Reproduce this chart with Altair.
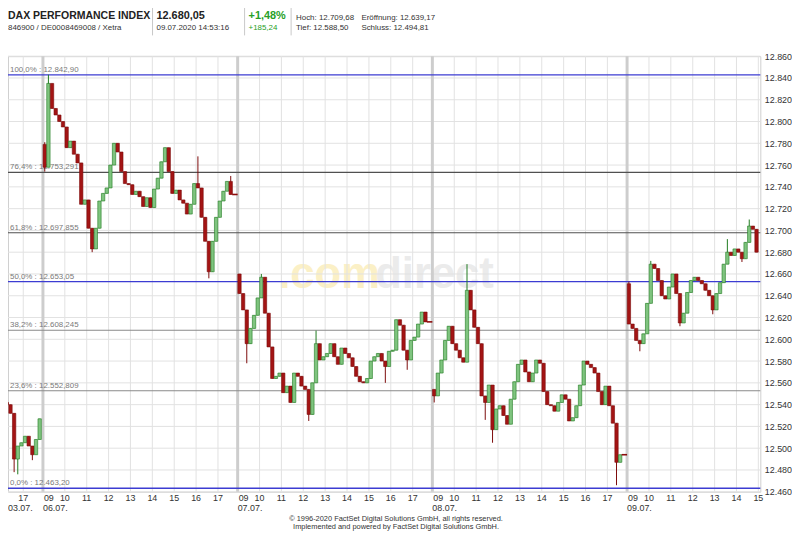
import altair as alt
import pandas as pd

# ------------------------------------------------------------------ data
day_names = ["03.07.", "06.07.", "07.07.", "08.07.", "09.07."]
day_index = [-1, 0, 1, 2, 3]
day_first_slot = [43, 0, 0, 0, 0]          # first visible 10-minute slot (09:00 = 0)
day_open = [12542, 12779, 12660, 12554, 12651]

close_0307 = [12540, 12532, 12490, 12502, 12505, 12511, 12502, 12494, 12508, 12527]
close_0607 = [12758, 12835, 12812, 12806, 12800, 12795, 12776, 12782, 12770, 12762,
              12724, 12728, 12702, 12683, 12702, 12727, 12734, 12739, 12760, 12780,
              12772, 12754, 12743, 12742, 12733, 12736, 12731, 12722, 12730, 12721,
              12738, 12748, 12763, 12776, 12754, 12734, 12737, 12728, 12725, 12715,
              12724, 12743, 12739, 12712, 12690, 12662, 12690, 12712, 12727, 12736,
              12745, 12733]
close_0707 = [12642, 12627, 12596, 12610, 12622, 12638, 12657, 12624, 12593, 12564,
              12566, 12569, 12551, 12557, 12542, 12569, 12566, 12557, 12554, 12531,
              12560, 12596, 12581, 12584, 12587, 12596, 12584, 12577, 12592, 12587,
              12583, 12575, 12566, 12561, 12560, 12564, 12580, 12584, 12587, 12580,
              12575, 12589, 12590, 12618, 12613, 12590, 12581, 12599, 12602, 12614,
              12625, 12616]
close_0807 = [12548, 12569, 12581, 12599, 12612, 12596, 12590, 12583, 12579, 12645,
              12627, 12611, 12596, 12548, 12542, 12558, 12517, 12536, 12539, 12530,
              12522, 12545, 12561, 12577, 12581, 12570, 12561, 12569, 12581, 12578,
              12552, 12540, 12539, 12534, 12542, 12549, 12545, 12525, 12528, 12539,
              12558, 12580, 12577, 12574, 12569, 12552, 12540, 12557, 12539, 12523,
              12487, 12494]
close_0907 = [12614, 12610, 12599, 12596, 12605, 12633, 12669, 12665, 12654, 12640,
              12637, 12648, 12660, 12642, 12615, 12624, 12643, 12654, 12657, 12654,
              12651, 12645, 12640, 12627, 12642, 12652, 12669, 12680, 12677, 12683,
              12680, 12674, 12689, 12704, 12701, 12680]
closes = [close_0307, close_0607, close_0707, close_0807, close_0907]

# wick extremes (slot within the day's list, price)
high_0307 = []
high_0607 = [(0, 12781), (1, 12843), (2, 12830), (42, 12768), (51, 12750)]
high_0707 = [(6, 12660), (21, 12608)]
high_0807 = [(9, 12669)]
high_0907 = [(0, 12653), (6, 12672), (27, 12692), (33, 12710)]
low_0307 = [(2, 12478), (3, 12476), (7, 12489)]
low_0607 = [(0, 12754), (13, 12680), (45, 12656)]
low_0707 = [(2, 12578), (19, 12525), (40, 12560), (46, 12572)]
low_0807 = [(0, 12542), (14, 12526), (16, 12505), (50, 12466)]
low_0907 = [(3, 12589), (14, 12612), (23, 12623), (31, 12671)]
highs = [high_0307, high_0607, high_0707, high_0807, high_0907]
lows = [low_0307, low_0607, low_0707, low_0807, low_0907]

hour_labels = [["17"],
               ["09", "10", "11", "12", "13", "14", "15", "16", "17"],
               ["09", "10", "11", "12", "13", "14", "15", "16", "17"],
               ["09", "10", "11", "12", "13", "14", "15", "16", "17"],
               ["09", "10", "11", "12", "13", "14", "15"]]

fib_labels = ["100,0% : 12.842,90", "76,4% : 12.753,291", "61,8% : 12.697,855",
              "50,0% : 12.653,05", "38,2% : 12.608,245", "23,6% : 12.552,809",
              "0,0% : 12.463,20"]
fib_values = [12842.90, 12753.291, 12697.855, 12653.05, 12608.245, 12552.809, 12463.20]
fib_group = ["key", "upper", "upper", "key", "lower", "lower", "key"]

y_ticks = list(range(12460, 12861, 20))

# ------------------------------------------------------------------ layout constants
DAY = 8.9              # axis units (hours) per trading day incl. post-close gap
X_DOMAIN = [-1.597, 32.79]
Y_DOMAIN = [12460, 12860]
W, H = 760, 440

# ------------------------------------------------------------------ tables
rows = []
flats = []
for d in range(len(day_names)):
    prev = day_open[d]
    his = dict(highs[d])
    los = dict(lows[d])
    base = day_index[d] * DAY
    for i, c in enumerate(closes[d]):
        slot = day_first_slot[d] + i
        start = base + slot / 6
        o = prev
        rows.append(dict(x0=start + 0.04 / 6, x1=start + 0.96 / 6, xm=start + 0.5 / 6,
                         open=o, close=c,
                         high=max(o, c, his.get(i, c)), low=min(o, c, los.get(i, c)),
                         dir="up" if c >= o else "down"))
        prev = c
    last_slot = day_first_slot[d] + len(closes[d]) - 1
    if last_slot == 51:
        flats.append(dict(x0=base + (last_slot + 0.9) / 6, x1=base + DAY, price=closes[d][-1]))
candles = pd.DataFrame(rows)
flat_df = pd.DataFrame(flats)

hour_rows, grid_rows, date_rows, bound_rows = [], [], [], []
for d in range(len(day_names)):
    base = day_index[d] * DAY
    for lab in hour_labels[d]:
        h = int(lab)
        pos = base + (h - 9)
        if h == 9:
            hour_rows.append(dict(pos=pos, lab=lab, kind="start"))
            bound_rows.append(dict(pos=pos))
        else:
            hour_rows.append(dict(pos=pos, lab=lab, kind="mid"))
            grid_rows.append(dict(pos=pos))
    date_rows.append(dict(pos=max(base, X_DOMAIN[0]), lab=day_names[d]))
hour_df = pd.DataFrame(hour_rows)
vgrid_df = pd.DataFrame(grid_rows)
bound_df = pd.DataFrame(bound_rows)
date_df = pd.DataFrame(date_rows)
hgrid_df = pd.DataFrame({"v": y_ticks})
fib_df = pd.DataFrame({"v": fib_values, "lab": fib_labels, "grp": fib_group})

# ------------------------------------------------------------------ encodings
FONT = "Liberation Sans"
xs = alt.Scale(domain=X_DOMAIN, nice=False, zero=False)
ys = alt.Scale(domain=Y_DOMAIN, nice=False, zero=False)
yaxis = alt.Axis(orient="right", values=y_ticks, ticks=False, domain=False, grid=False,
                 labelExpr="replace(format(datum.value, ','), ',', '.')",
                 labelFontSize=9, labelFont=FONT, labelColor="#333333",
                 labelPadding=4, title=None)


def X(f):
    return alt.X(f, type="quantitative", scale=xs, axis=None)


def Y(f):
    return alt.Y(f, type="quantitative", scale=ys, axis=yaxis)


GREEN_FILL, GREEN_LINE = "#7fc47f", "#1e7a1e"
RED_FILL, RED_LINE = "#a31414", "#7c0a0a"
dir_fill = alt.Scale(domain=["up", "down"], range=[GREEN_FILL, RED_FILL])
dir_line = alt.Scale(domain=["up", "down"], range=[GREEN_LINE, RED_LINE])

# ------------------------------------------------------------------ layers
watermark_com = alt.Chart(alt.Data(values=[{"t": ".com"}])).mark_text(
    align="left", baseline="alphabetic", font=FONT, fontSize=44, fontWeight="bold",
    color="#fbf0c6").encode(x=alt.value(273), y=alt.value(234), text="t:N")
watermark_direct = alt.Chart(alt.Data(values=[{"t": "direct"}])).mark_text(
    align="left", baseline="alphabetic", font=FONT, fontSize=44, fontWeight="bold",
    color="#ebebeb").encode(x=alt.value(371), y=alt.value(234), text="t:N")

hgrid = alt.Chart(hgrid_df).mark_rule(color="#e2e2e2", strokeWidth=1).encode(y=Y("v"))
vgrid = alt.Chart(vgrid_df).mark_rule(color="#e2e2e2", strokeWidth=1).encode(x=X("pos"))
bounds = alt.Chart(bound_df).mark_rule(color="#cdcdcd", strokeWidth=3).encode(x=X("pos"))

fib_lines = alt.Chart(fib_df).mark_rule().encode(
    y=Y("v"),
    color=alt.Color("grp:N", legend=None,
                    scale=alt.Scale(domain=["key", "upper", "lower"],
                                    range=["#3c3cd2", "#505050", "#8a8a8a"])),
    strokeWidth=alt.StrokeWidth("grp:N", legend=None,
                                scale=alt.Scale(domain=["key", "upper", "lower"],
                                                range=[1.3, 1.1, 1.6])))
fib_text = alt.Chart(fib_df).mark_text(
    align="left", baseline="bottom", font=FONT, fontSize=8, color="#7a7a7a", dx=2, dy=-1
).encode(x=alt.value(0), y=Y("v"), text="lab:N")

wicks = alt.Chart(candles).mark_rule(clip=True, strokeWidth=1).encode(
    x=X("xm"), y=Y("low"), y2="high",
    stroke=alt.Stroke("dir:N", scale=dir_line, legend=None))
bodies = alt.Chart(candles).mark_bar(clip=True, strokeWidth=0.6).encode(
    x=X("x0"), x2="x1", y=Y("open"), y2="close",
    fill=alt.Fill("dir:N", scale=dir_fill, legend=None),
    stroke=alt.Stroke("dir:N", scale=dir_line, legend=None))
flat_lines = alt.Chart(flat_df).mark_rule(color="#8c0c0c", strokeWidth=1.6).encode(
    x=X("x0"), x2="x1", y=Y("price"))

hour_mid = alt.Chart(hour_df).transform_filter("datum.kind == 'mid'").mark_text(
    align="center", baseline="alphabetic", font=FONT, fontSize=9, color="#333333"
).encode(x=X("pos"), y=alt.value(449), text="lab:N")
hour_start = alt.Chart(hour_df).transform_filter("datum.kind == 'start'").mark_text(
    align="left", baseline="alphabetic", font=FONT, fontSize=9, color="#333333", dx=1
).encode(x=X("pos"), y=alt.value(449), text="lab:N")
dates = alt.Chart(date_df).mark_text(
    align="left", baseline="alphabetic", font=FONT, fontSize=9, color="#333333"
).encode(x=X("pos"), y=alt.value(459), text="lab:N")


def label(txt, x, y, size=8, weight="normal", color="#333333", align="left"):
    return alt.Chart(alt.Data(values=[{"t": txt}])).mark_text(
        align=align, baseline="alphabetic", font=FONT, fontSize=size,
        fontWeight=weight, color=color).encode(x=alt.value(x), y=alt.value(y), text="t:N")


def sep(x):
    return alt.Chart(alt.Data(values=[{"t": 1}])).mark_rule(
        color="#c8c8c8", strokeWidth=1).encode(
        x=alt.value(x), y=alt.value(-51), y2=alt.value(-21))


GREEN_TXT = "#27a027"
header = [
    label("DAX PERFORMANCE INDEX", 0, -38, 10.6, "bold", "#222222"),
    label("12.680,05", 150, -38, 11, "bold", "#222222"),
    label("+1,48%", 243, -38, 11, "bold", GREEN_TXT),
    label("Hoch: 12.709,68", 291, -37),
    label("Eröffnung: 12.639,17", 357, -37),
    label("846900 / DE0008469008 / Xetra", 0, -26),
    label("09.07.2020 14:53:16", 150, -26),
    label("+185,24", 243, -26, 8, "normal", GREEN_TXT),
    label("Tief: 12.588,50", 291, -26),
    label("Schluss: 12.494,81", 357, -26),
    sep(146), sep(239), sep(286),
]
footer = [
    label("© 1996-2020 FactSet Digital Solutions GmbH, all rights reserved.", 392, 470,
          7.5, align="center"),
    label("Implemented and powered by FactSet Digital Solutions GmbH.", 392, 478,
          7.5, align="center"),
]

chart = alt.layer(
    watermark_com, watermark_direct, hgrid, vgrid, bounds, fib_lines, fib_text,
    wicks, bodies, flat_lines, hour_mid, hour_start, dates, *header, *footer
).properties(
    width=W, height=H,
    padding={"left": 0, "top": 46, "right": 32, "bottom": 39},
    autosize=alt.AutoSizeParams(type="none"),
    background="white",
).configure_view(stroke="#cfcfcf", strokeWidth=1)

chart.save("out.html", embed_options={"renderer": "svg", "actions": False})
